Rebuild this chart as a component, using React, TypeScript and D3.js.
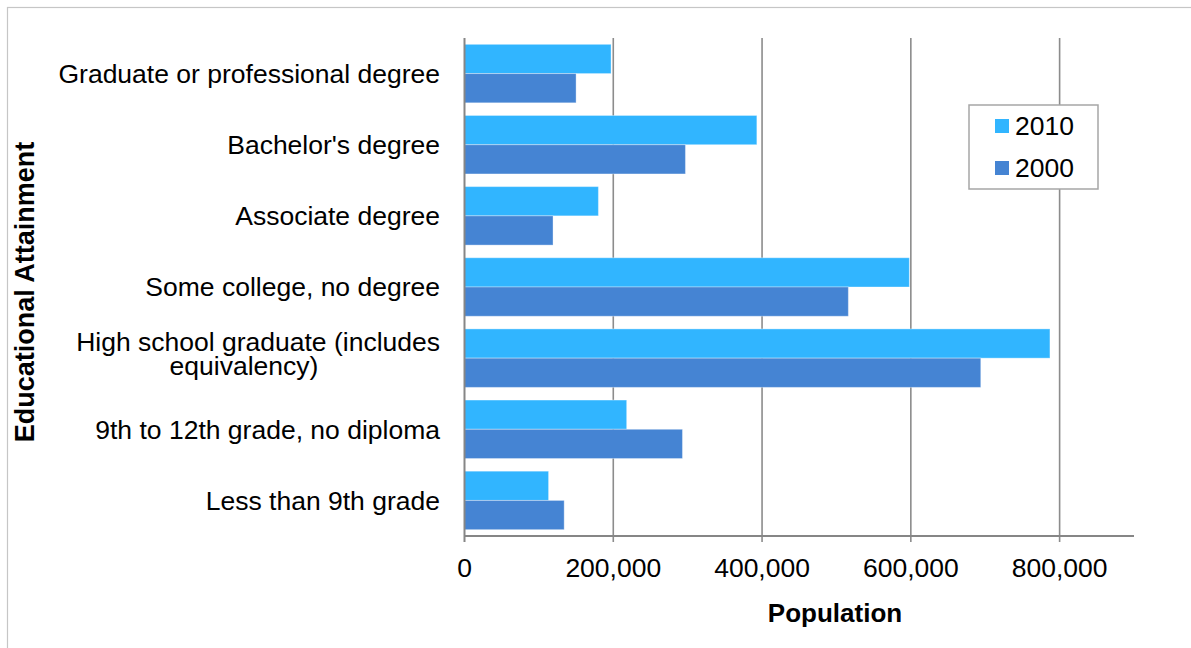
import React from "react";
import * as d3 from "d3";

// Educational attainment categories, top to bottom
const categories = [
  "Graduate or professional degree",
  "Bachelor's degree",
  "Associate degree",
  "Some college, no degree",
  "High school graduate (includes equivalency)",
  "9th to 12th grade, no diploma",
  "Less than 9th grade",
];

const years = ["2010", "2000"];

const values2010 = [197000, 393000, 180000, 598000, 787000, 218000, 113000];
const values2000 = [150000, 297000, 119000, 516000, 694000, 293000, 134000];

const xTicks = [0, 200000, 400000, 600000, 800000];

const W = 1191;
const H = 648;
const FONT = "'Liberation Sans', Arial, Helvetica, sans-serif";
const FS = 26.5;
const COLORS: Record<string, string> = { "2010": "#31B5FF", "2000": "#4584D3" };

export default function App() {
  const left = 464.5;
  const right = 1134;
  const top = 38;
  const bottom = 536;

  const x = d3.scaleLinear().domain([0, 900000]).range([left, right]);
  const y = d3
    .scaleBand<string>()
    .domain(categories)
    .range([top, bottom])
    .paddingInner(0.178)
    .paddingOuter(0.089);
  const sub = d3.scaleBand<string>().domain(years).range([0, y.bandwidth()]);
  const fmt = d3.format(",");

  const series: Record<string, number[]> = { "2010": values2010, "2000": values2000 };

  const labelLines = (c: string): string[] =>
    c.startsWith("High school") ? ["High school graduate (includes", "equivalency)"] : [c];

  return (
    <svg
      width={W}
      height={H}
      style={{ position: "absolute", left: 0, top: 0, background: "#fff" }}
      fontFamily={FONT}
    >
      <rect x={7.5} y={7.5} width={1300} height={800} fill="#fff" stroke="#c6c6c6" strokeWidth={1.2} />

      {/* vertical gridlines */}
      {xTicks.slice(1).map((t) => (
        <line key={t} x1={x(t)} x2={x(t)} y1={top} y2={bottom + 6} stroke="#8c8c8c" strokeWidth={1.6} />
      ))}

      {/* bars */}
      {categories.map((c, i) =>
        years.map((yr) => {
          const v = series[yr][i];
          return (
            <rect
              key={c + yr}
              x={x(0)}
              y={(y(c) as number) + (sub(yr) as number)}
              width={x(v) - x(0)}
              height={sub.bandwidth()}
              fill={COLORS[yr]}
              stroke="rgba(255,255,255,0.35)"
              strokeWidth={1}
            />
          );
        })
      )}

      {/* axes */}
      <line x1={left} x2={left} y1={top} y2={bottom + 6} stroke="#868686" strokeWidth={2} />
      <line x1={left} x2={right} y1={bottom} y2={bottom} stroke="#868686" strokeWidth={2} />

      {/* x tick labels */}
      {xTicks.map((t) => (
        <text key={t} x={x(t)} y={577} textAnchor="middle" fontSize={FS} fill="#000">
          {fmt(t)}
        </text>
      ))}

      {/* category labels */}
      {categories.map((c) => {
        const lines = labelLines(c);
        const cy = (y(c) as number) + y.bandwidth() / 2;
        if (lines.length === 1) {
          return (
            <text key={c} x={440} y={cy} dy="0.35em" textAnchor="end" fontSize={FS} fill="#000">
              {c}
            </text>
          );
        }
        return (
          <g key={c}>
            <text x={440} y={cy - 7} textAnchor="end" fontSize={FS} fill="#000">
              {lines[0]}
            </text>
            <text x={244} y={cy + 17} textAnchor="middle" fontSize={FS} fill="#000">
              {lines[1]}
            </text>
          </g>
        );
      })}

      {/* axis titles */}
      <text x={835} y={622} textAnchor="middle" fontSize={26} fontWeight="bold" fill="#000">
        Population
      </text>
      <text
        transform="translate(34,292) rotate(-90)"
        textAnchor="middle"
        fontSize={27}
        fontWeight="bold"
        fill="#000"
      >
        Educational Attainment
      </text>

      {/* legend */}
      <rect x={969} y={105} width={129} height={84} fill="#fff" stroke="#a6a6a6" strokeWidth={1.5} />
      {years.map((yr, i) => (
        <g key={yr} transform={`translate(995,${119 + i * 42})`}>
          <rect width={14} height={14} fill={COLORS[yr]} />
          <text x={20} y={16} fontSize={FS} fill="#000">
            {yr}
          </text>
        </g>
      ))}
    </svg>
  );
}
